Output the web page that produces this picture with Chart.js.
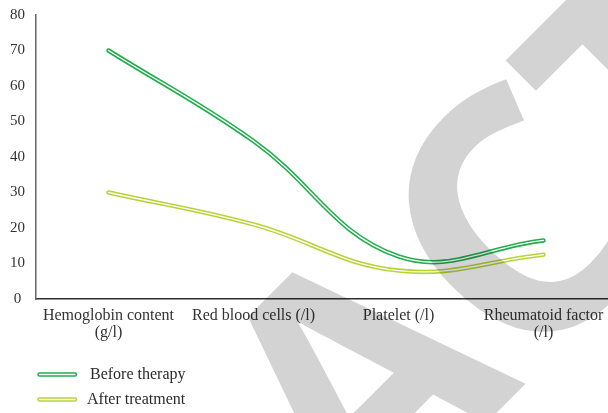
<!DOCTYPE html>
<html>
<head>
<meta charset="utf-8">
<script src="https://cdn.jsdelivr.net/npm/chart.js@4/dist/chart.umd.min.js"></script>
<style>
  html, body { margin: 0; padding: 0; background: #fff; overflow: hidden; }
  #wrap { width: 616px; height: 413px; position: relative; }
</style>
</head>
<body>
<div id="wrap"><canvas id="c"></canvas></div>
<script>
const categories = [["Hemoglobin content", "(g/l)"], "Red blood cells (/l)", "Platelet (/l)", ["Rheumatoid factor", "(/l)"]];
const beforeTherapy = [70, 44.5, 12, 16.5];
const afterTreatment = [30, 21, 8, 12.5];
const yTicks = [0, 10, 20, 30, 40, 50, 60, 70, 80];
const seriesNames = ["Before therapy", "After treatment"];
const seriesColors = ["#1fae4b", "#b6d437"];

const SERIF = '"Liberation Serif", "DejaVu Serif", serif';

function outerSet(label, data, color) {
  return { label, data, borderColor: color, borderWidth: 4.5, tension: 0.4,
    pointRadius: 0, borderCapStyle: 'round', borderJoinStyle: 'round', fill: false, order: 2, isInner: false };
}
function innerSet(label, data) {
  return { label: label + ' (inner)', data, borderColor: '#ffffff', borderWidth: 1.4, tension: 0.4,
    pointRadius: 0, borderCapStyle: 'round', borderJoinStyle: 'round', fill: false, order: 1, isInner: true };
}

const legendPlugin = {
  id: 'stackLegend',
  afterDraw(chart) {
    const ctx = chart.ctx;
    const items = chart.data.datasets.filter(d => !d.isInner);
    ctx.save();
    items.forEach((d, i) => {
      const y = 374.5 + i * 25;
      ctx.lineCap = 'round';
      ctx.strokeStyle = d.borderColor; ctx.lineWidth = 4.5;
      ctx.beginPath(); ctx.moveTo(39.5, y); ctx.lineTo(75, y); ctx.stroke();
      ctx.strokeStyle = '#fff'; ctx.lineWidth = 1.4;
      ctx.beginPath(); ctx.moveTo(39.5, y); ctx.lineTo(75, y); ctx.stroke();
      ctx.fillStyle = '#2b2b2b';
      ctx.font = '16px ' + SERIF;
      ctx.textBaseline = 'middle';
      ctx.textAlign = 'left';
      ctx.fillText(d.label, i === 0 ? 90 : 87, y);
    });
    ctx.restore();
  }
};

// "RETRACTED" watermark along a 45° baseline, composited once with multiply
const watermarkPlugin = {
  id: 'watermark',
  afterDraw(chart) {
    const ctx = chart.ctx;
    const dpr = chart.currentDevicePixelRatio || 1;
    const off = document.createElement('canvas');
    off.width = chart.canvas.width; off.height = chart.canvas.height;
    const o = off.getContext('2d');
    o.scale(dpr, dpr);
    const S = 340;
    const base = 0.714 * S;
    o.fillStyle = '#d3d3d3';
    o.translate(298, 268);
    o.rotate(-Math.PI / 4);
    o.font = 'bold ' + S + 'px "Open Sans", "Noto Sans", sans-serif';
    o.textBaseline = 'alphabetic';
    o.textAlign = 'left';
    const m = (t) => o.measureText(t);
    const atLeft = (t, edge) => o.fillText(t, edge + m(t).actualBoundingBoxLeft, base);
    const atRight = (t, edge) => o.fillText(t, edge - m(t).actualBoundingBoxRight, base);
    const atCenter = (t, c) => { const mm = m(t); atLeft(t, c - (mm.actualBoundingBoxLeft + mm.actualBoundingBoxRight) / 2); };
    atRight('RETR', -157);
    atCenter('A', -36);
    atLeft('C', 92);
    atLeft('T', 292);
    const tm = m('T');
    atLeft('ED', 292 + tm.actualBoundingBoxLeft + tm.actualBoundingBoxRight + 25);
    ctx.save();
    ctx.setTransform(1, 0, 0, 1, 0, 0);
    ctx.globalCompositeOperation = 'multiply';
    ctx.drawImage(off, 0, 0);
    ctx.restore();
  }
};

new Chart(document.getElementById('c'), {
  type: 'line',
  data: {
    labels: categories,
    datasets: [
      innerSet(seriesNames[0], beforeTherapy),
      outerSet(seriesNames[0], beforeTherapy, seriesColors[0]),
      innerSet(seriesNames[1], afterTreatment),
      outerSet(seriesNames[1], afterTreatment, seriesColors[1])
    ]
  },
  options: {
    responsive: true,
    maintainAspectRatio: false,
    animation: false,
    layout: { padding: { top: 15, right: 0, bottom: 67, left: 0 } },
    plugins: { legend: { display: false }, tooltip: { enabled: false } },
    scales: {
      x: {
        offset: true,
        grid: { display: true, color: 'transparent', drawTicks: false },
        border: { display: true, color: '#2e2e2e', width: 1.5 },
        ticks: { color: '#333', padding: 8, maxRotation: 0, autoSkip: false,
          font: { family: SERIF, size: 16, lineHeight: 1.08 } },
        afterFit(s) { s.height = 47; }
      },
      y: {
        min: 0, max: 80,
        grid: { display: true, color: 'transparent', drawTicks: true, tickLength: 11, tickColor: 'transparent' },
        border: { display: true, color: '#666', width: 1.5 },
        ticks: { stepSize: 10, color: '#333', padding: 0, crossAlign: 'center',
          font: { family: SERIF, size: 15 },
          callback: (v) => yTicks.includes(v) ? String(v) : '' },
        afterFit(s) { s.width = 36; }
      }
    }
  },
  plugins: [legendPlugin, watermarkPlugin]
});
</script>
</body>
</html>
